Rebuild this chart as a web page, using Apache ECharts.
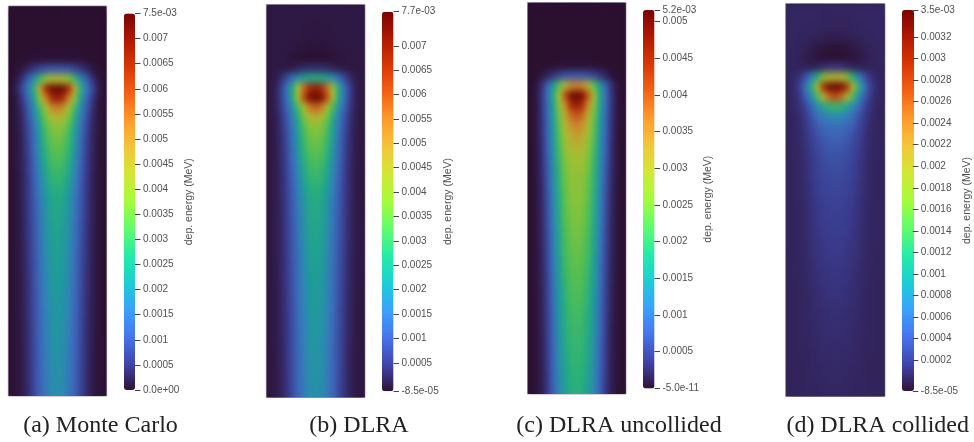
<!DOCTYPE html>
<html><head><meta charset="utf-8">
<style>html,body{margin:0;padding:0;background:#fff}#c{width:974px;height:442px}</style>
<script src="https://cdn.jsdelivr.net/npm/echarts@6/dist/echarts.min.js"></script>
</head><body>
<svg width="0" height="0" style="position:absolute"><filter id="soft" x="0" y="0" width="100%" height="100%" color-interpolation-filters="sRGB"><feOffset in="SourceGraphic" dy="9" result="o"/><feMerge result="m"><feMergeNode in="o"/><feMergeNode in="SourceGraphic"/></feMerge><feGaussianBlur in="m" stdDeviation="2.4 3.6"/></filter></svg>
<div id="c"></div>
<script>
// Values are in units of 1e-5 MeV. Each row runs from the beam axis out to the side wall.
const valueUnit = 1e-5;
const monteCarloRows = [
[0,0,0,0,0,0,0,0,0],[0,0,0,0,0,0,0,0,0],[0,0,0,0,0,0,0,0,0],[0,0,0,0,0,0,0,0,0],[1,1,1,1,0,0,0,0,0],
[4,4,4,3,3,2,1,0,0],[95,92,85,70,50,30,12,2,0],[440,425,380,295,185,105,45,12,1],[748,740,650,490,280,150,80,25,4],[680,645,535,390,230,122,54,15,2],
[540,510,420,300,180,98,42,11,2],[450,430,360,262,155,85,36,10,2],[385,372,318,232,135,74,32,10,2],[360,348,300,218,128,68,30,9,2],[340,328,284,206,122,64,29,9,2],
[322,312,270,196,116,60,28,9,2],[305,295,252,180,108,58,27,9,2],[290,280,236,168,102,56,26,8,2],[272,263,220,158,98,54,25,8,2],[255,246,205,148,94,53,25,8,2],
[250,240,198,142,92,52,24,8,2],[245,235,194,139,90,51,24,8,2],[240,230,190,136,88,50,23,8,2],[236,226,186,133,86,49,23,8,2],[232,222,182,130,85,48,22,8,2],
[228,218,178,127,84,47,22,7,2],[224,214,175,125,82,46,21,7,2],[220,210,172,123,81,45,21,7,2],[216,206,169,121,80,44,20,7,2],[213,203,165,119,79,43,20,7,2],
[210,200,162,117,78,42,20,7,2],[207,197,159,115,77,42,19,7,2],[204,194,156,113,76,41,19,7,2],[202,192,153,112,75,40,18,6,2],[200,190,150,111,74,40,18,6,2],
[197,187,148,110,73,39,17,6,2],[195,185,146,109,73,39,17,6,2],[193,183,144,108,72,38,17,6,2],[191,181,142,107,72,38,16,6,2],[189,179,140,105,71,37,16,6,2]];
const dlraRows = [
[4,4,4,4,4,4,4,4,4],[3,3,3,4,4,4,4,4,4],[1,1,2,3,4,4,4,4,4],[1,1,2,3,4,4,4,4,4],[-4,-3,-2,0,2,3,4,4,4],
[-8,-8,-7,-5,-2,1,3,4,4],[30,29,25,16,6,3,3,3,3],[260,250,225,180,120,65,26,8,3],[700,670,580,430,250,125,50,12,3],[765,740,620,440,245,122,50,12,3],
[590,555,445,315,185,98,42,11,3],[470,445,365,255,150,82,35,9,3],[395,380,322,230,134,73,31,8,3],[368,355,303,216,126,67,29,8,3],[347,335,287,204,120,63,28,8,3],
[328,318,272,194,114,60,27,8,3],[310,300,254,178,106,57,26,8,3],[295,285,238,166,100,55,25,7,3],[278,268,222,156,96,53,24,7,3],[262,252,208,146,92,52,24,7,3],
[255,245,201,141,90,51,23,7,3],[250,240,197,138,88,50,23,7,3],[245,235,193,135,86,49,22,7,3],[241,231,189,132,84,48,22,7,3],[237,227,185,129,83,47,21,7,3],
[233,223,181,127,82,46,21,7,3],[229,219,178,125,81,45,20,6,3],[225,215,175,123,80,44,20,6,3],[221,211,172,121,79,43,20,6,3],[218,208,168,119,78,42,19,6,2],
[215,205,165,117,77,42,19,6,2],[212,202,162,115,76,41,18,6,2],[209,199,159,113,75,40,18,6,2],[206,196,156,112,74,40,18,6,2],[204,194,153,111,73,39,17,6,2],
[201,191,151,110,72,38,17,5,2],[199,189,149,109,72,38,17,5,2],[197,187,147,108,71,37,16,5,2],[195,185,145,107,71,37,16,5,2],[193,183,143,105,70,36,16,5,2]];
const uncollidedRows = [
[0,0,0,0,0,0,0,0,0],[0,0,0,0,0,0,0,0,0],[0,0,0,0,0,0,0,0,0],[0,0,0,0,0,0,0,0,0],[0,0,0,0,0,0,0,0,0],
[1,1,1,0,0,0,0,0,0],[2,2,2,2,1,1,0,0,0],[65,63,58,47,32,17,6,1,0],[370,355,305,235,150,78,28,5,0],[515,495,410,290,175,90,34,7,0],
[470,445,360,265,165,85,33,7,0],[410,390,325,245,155,82,32,7,0],[370,355,305,235,150,78,30,7,0],[345,330,290,225,145,75,29,7,0],[320,310,275,216,140,72,28,6,0],
[302,292,262,207,135,70,27,6,0],[288,280,252,201,130,67,26,6,0],[278,270,244,195,126,64,25,6,0],[272,263,238,190,122,62,24,6,0],[268,259,233,185,118,60,23,6,0],
[265,256,230,182,115,58,22,6,0],[260,250,225,177,112,56,22,5,0],[255,245,220,173,109,55,21,5,0],[250,240,216,169,106,53,20,5,0],[245,235,212,165,104,52,20,5,0],
[240,230,208,162,101,50,19,5,0],[235,226,203,158,98,49,19,5,0],[230,221,199,155,96,48,18,5,0],[225,217,195,151,93,46,18,5,0],[221,213,191,148,91,45,17,5,0],
[217,209,187,145,89,44,17,4,0],[213,205,183,142,87,43,16,4,0],[209,201,179,139,85,42,16,4,0],[205,197,176,136,83,41,15,4,0],[202,194,172,133,81,40,15,4,0],
[199,191,169,130,79,39,15,4,0],[196,188,166,128,78,38,14,4,0],[193,185,163,125,76,37,14,4,0],[190,182,160,123,74,36,14,4,0],[187,179,157,120,73,35,13,4,0]];
const collidedRows = [
[5,5,5,5,5,5,5,5,5],[4,4,4,5,5,5,5,5,5],[3,3,3,4,4,5,5,5,5],[0,0,1,2,3,4,4,5,5],[-6,-6,-5,-3,-1,1,3,4,5],
[-8,-8,-7,-5,-3,0,2,4,5],[14,12,8,4,2,2,3,4,4],[205,198,168,118,68,33,13,6,4],[344,338,298,212,122,60,23,9,4],[275,258,208,138,80,40,16,7,4],
[128,122,104,76,47,24,12,6,4],[74,72,63,49,33,18,9,5,4],[52,51,46,37,26,15,8,5,4],[42,41,37,30,21,13,7,5,4],[36,35,32,26,19,12,7,5,4],
[32,31,28,23,17,11,6,5,4],[29,28,26,21,16,10,6,4,4],[27,26,24,20,15,10,6,4,4],[25,24,22,19,14,9,6,4,4],[23,23,21,18,13,9,6,4,4],
[21,21,19,16,12,8,5,4,4],[20,20,18,15,12,8,5,4,4],[19,19,17,15,11,8,5,4,4],[18,18,16,14,11,7,5,4,4],[17,17,15,13,10,7,5,4,4],
[16,16,14,12,10,7,5,4,3],[15,15,13,12,9,6,5,4,3],[14,14,12,11,9,6,4,4,3],[13,13,12,10,8,6,4,3,3],[12,12,11,9,8,5,4,3,3],
[11,11,10,9,7,5,4,3,3],[10,10,9,8,7,5,4,3,3],[10,9,9,8,6,5,4,3,3],[9,9,8,7,6,5,4,3,3],[8,8,8,7,6,4,4,3,3],
[8,7,7,6,5,4,4,3,3],[7,7,6,6,5,4,3,3,3],[7,6,6,5,5,4,3,3,3],[6,6,5,5,4,4,3,3,3],[5,5,5,4,4,4,3,3,3]];

const monteCarloTicks = [0,.0005,.001,.0015,.002,.0025,.003,.0035,.004,.0045,.005,.0055,.006,.0065,.007,.0075];
const monteCarloLabels = ['0.0e+00','0.0005','0.001','0.0015','0.002','0.0025','0.003','0.0035','0.004','0.0045','0.005','0.0055','0.006','0.0065','0.007','7.5e-03'];
const dlraTicks = [-.000085,.0005,.001,.0015,.002,.0025,.003,.0035,.004,.0045,.005,.0055,.006,.0065,.007,.0077];
const dlraLabels = ['-8.5e-05','0.0005','0.001','0.0015','0.002','0.0025','0.003','0.0035','0.004','0.0045','0.005','0.0055','0.006','0.0065','0.007','7.7e-03'];
const uncollidedTicks = [0,.0005,.001,.0015,.002,.0025,.003,.0035,.004,.0045,.005,.00516];
const uncollidedLabels = ['-5.0e-11','0.0005','0.001','0.0015','0.002','0.0025','0.003','0.0035','0.004','0.0045','0.005','5.2e-03'];
const collidedTicks = [-.000085,.0002,.0004,.0006,.0008,.001,.0012,.0014,.0016,.0018,.002,.0022,.0024,.0026,.0028,.003,.0032,.00345];
const collidedLabels = ['-8.5e-05','0.0002','0.0004','0.0006','0.0008','0.001','0.0012','0.0014','0.0016','0.0018','0.002','0.0022','0.0024','0.0026','0.0028','0.003','0.0032','3.5e-03'];
const captions = ['(a) Monte Carlo','(b) DLRA','(c) DLRA uncollided','(d) DLRA collided'];
const colorbarTitle = 'dep. energy (MeV)';

const turboBar = ['#30123b','#4145ab','#4675ed','#39a2fc','#1bcfd4','#24eca6','#61fc6c','#a4fc3b','#d1e834','#f3c63a','#fe9b2d','#f36315','#d93806','#b11901','#7a0403'];
const turboPlot = ['#2b1030','#3a3a8c','#3e64b9','#3282b9','#1e9b9b','#28af7d','#50be55','#82c33c','#a5be32','#bea532','#cd822d','#c35519','#aa320a','#8c1905','#690805'];

const panels = [
 {rows:monteCarloRows, ticks:monteCarloTicks, labels:monteCarloLabels, plot:[8.3,6,98.4,390], bar:[124,13.5,11,376.5], cap:100.5, back:'#2b1030'},
 {rows:dlraRows, ticks:dlraTicks, labels:dlraLabels, plot:[266.3,4.5,98.7,393], bar:[382,11.7,11.5,379.6], cap:359, back:'#2d1840'},
 {rows:uncollidedRows, ticks:uncollidedTicks, labels:uncollidedLabels, plot:[527.5,2.5,98.5,391.5], bar:[643,10,11.5,378.4], cap:619, back:'#2b1030'},
 {rows:collidedRows, ticks:collidedTicks, labels:collidedLabels, plot:[785.7,3.5,99.3,393], bar:[902,10,12,381], cap:877.7, back:'#2f1f50'}
];

const font = '"Liberation Sans", Arial, sans-serif';
const opt = {animation:false, backgroundColor:'transparent', grid:[], xAxis:[], yAxis:[], series:[], visualMap:[], title:[]};
panels.forEach((p,i) => {
  const heatIdx = opt.grid.length;
  const nr = p.rows.length, half = p.rows[0].length, nc = half*2-1;
  opt.grid.push({show:true, left:p.plot[0], top:p.plot[1], width:p.plot[2], height:p.plot[3], backgroundColor:p.back, borderColor:'#a99fb6', borderWidth:1, zlevel:0});
  opt.xAxis.push({type:'category', gridIndex:heatIdx, show:false, data:Array.from({length:nc},(_, k)=>k)});
  opt.yAxis.push({type:'category', gridIndex:heatIdx, show:false, inverse:true, data:Array.from({length:nr},(_, k)=>k)});
  const data = [];
  p.rows.forEach((row,r) => {
    const full = row.slice(1).reverse().concat(row);
    full.forEach((v,c) => data.push([c,r,v*valueUnit]));
  });
  opt.series.push({type:'heatmap', xAxisIndex:heatIdx, yAxisIndex:heatIdx, data, silent:true, progressive:0, zlevel:1});
  const lo = p.ticks[0], hi = p.ticks[p.ticks.length-1];
  opt.visualMap.push({type:'continuous', show:false, seriesIndex:i, dimension:2, min:lo, max:hi, inRange:{color:turboPlot}});
  opt.visualMap.push({type:'continuous', show:true, seriesIndex:[], min:lo, max:hi, left:p.bar[0], top:p.bar[1], itemWidth:p.bar[2], itemHeight:p.bar[3], padding:0, calculable:false, hoverLink:false, inRange:{color:turboBar}, text:null, zlevel:2, borderWidth:0, borderRadius:0});
  const barIdx = opt.grid.length;
  opt.grid.push({left:p.bar[0], top:p.bar[1], width:p.bar[2], height:p.bar[3], zlevel:2});
  opt.xAxis.push({type:'value', gridIndex:barIdx, show:false, min:0, max:1, zlevel:2});
  opt.yAxis.push({type:'value', gridIndex:barIdx, position:'right', min:lo, max:hi, zlevel:2, z:10,
    splitLine:{show:false}, axisLine:{show:false, onZero:false},
    axisTick:{show:true, length:5.5, lineStyle:{color:'#444', width:1}, customValues:p.ticks},
    axisLabel:{show:true, margin:8, fontFamily:font, fontSize:10, color:'#505050', customValues:p.ticks,
      formatter:v => p.labels[p.ticks.indexOf(v)]},
    name:colorbarTitle, nameLocation:'middle', nameGap:48, nameRotate:90,
    nameTextStyle:{fontFamily:font, fontSize:10.5, color:'#505050'}});
  opt.title.push({text:captions[i], left:p.cap, top:414, padding:0, textAlign:'center', zlevel:2,
    textStyle:{fontFamily:'"Liberation Serif", serif', fontWeight:'normal', fontSize:24, color:'#222'}});
});
const chart = echarts.init(document.getElementById('c'), null, {renderer:'canvas'});
chart.setOption(opt);
// Soften only the heat layer and keep it inside the plot frames, as the source raster was resampled.
const heatLayer = document.querySelector('#c canvas[data-zr-dom-id="zr_1"]');
if (heatLayer) {
  heatLayer.style.filter = 'url(#soft)';
  heatLayer.style.clipPath = "path('" + panels.map(p => `M${p.plot[0]} ${p.plot[1]}h${p.plot[2]}v${p.plot[3]}h${-p.plot[2]}z`).join(' ') + "')";
}
</script></body></html>
